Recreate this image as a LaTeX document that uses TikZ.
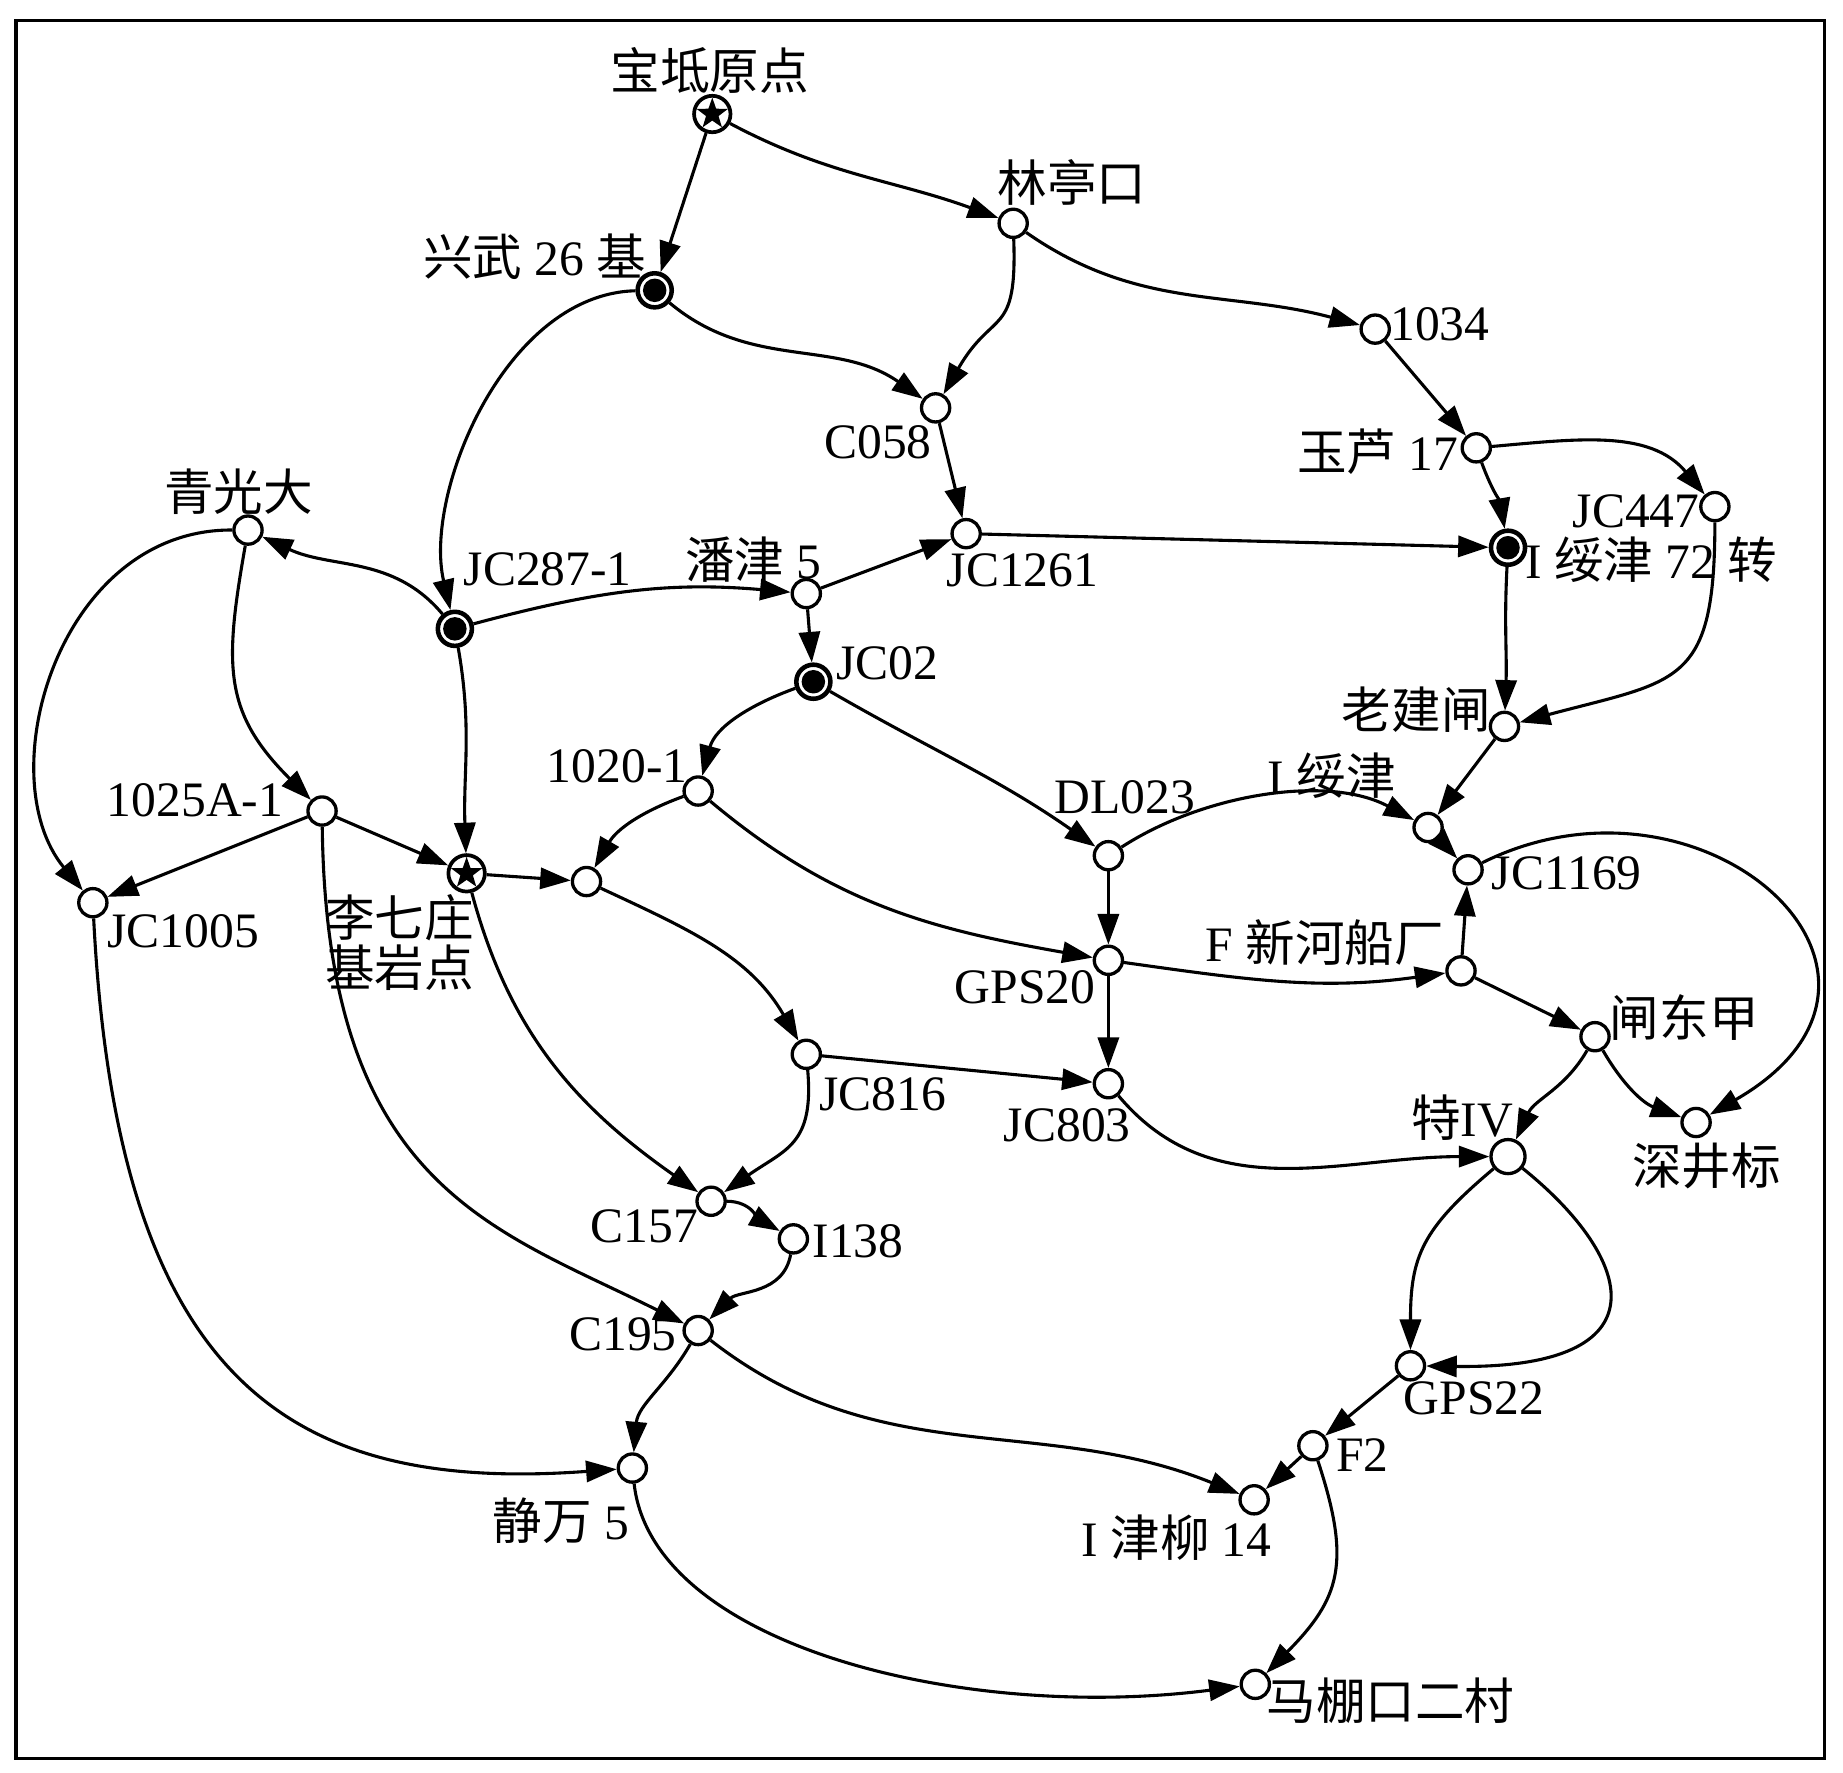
\documentclass[tikz,border=0pt]{standalone}
\usepackage{fontspec}
\setmainfont{Liberation Serif}
\newfontfamily\cjk{Noto Sans CJK SC}
\usetikzlibrary{arrows.meta}

\begin{document}
\begin{tikzpicture}[x=0.1mm,y=-0.1mm,>={Triangle[length=2.6mm,width=1.8mm]},
  stn/.style={circle,draw,line width=0.8pt,fill=white,inner sep=0pt,minimum size=2.4mm},
  bench/.style={stn,line width=1.1pt,minimum size=2.9mm,path picture={\fill[black] (path picture bounding box.center) circle (1mm);}},
  origin/.style={stn,line width=0.9pt,minimum size=3.1mm,path picture={\fill[black,shift={(path picture bounding box.center)}] (90:1.4mm) -- (126:.56mm) -- (162:1.4mm) -- (198:.56mm) -- (234:1.4mm) -- (270:.56mm) -- (306:1.4mm) -- (342:.56mm) -- (18:1.4mm) -- (54:.56mm) -- cycle;}},
  lbl/.style={inner sep=0pt,font=\fontsize{12}{14}\selectfont},
  link/.style={->,line width=0.75pt}]
\useasboundingbox (0,0) rectangle (1568,1508);
\draw[line width=0.75pt] (13.6,17.6) rectangle (1552.4,1496.3);

\node[origin] (baodi) at (606,97) {};
\node[stn] (linting) at (862,190) {};
\node[bench] (xingwu) at (557,247) {};
\node[stn] (p1034) at (1170,280) {};
\node[stn] (c058) at (796,347) {};
\node[stn] (yulu) at (1256,381) {};
\node[stn] (jc447) at (1459,431) {};
\node[stn] (jc1261) at (822,454) {};
\node[bench] (suijin72) at (1283,466) {};
\node[stn] (qingguang) at (211,451) {};
\node[bench] (jc287) at (387,535) {};
\node[stn] (panjin) at (686,505) {};
\node[bench] (jc02) at (692,580) {};
\node[stn] (laojian) at (1280,618) {};
\node[stn] (p1020) at (594,673) {};
\node[stn] (p1025) at (274,690) {};
\node[stn] (suijin) at (1215,704) {};
\node[stn] (dl023) at (943,728) {};
\node[origin] (liqi) at (397,743) {};
\node[stn] (mid) at (499,750) {};
\node[stn] (jc1169) at (1249,740) {};
\node[stn] (jc1005) at (79,768) {};
\node[stn] (gps20) at (943,817) {};
\node[stn] (xinhe) at (1243,826) {};
\node[stn] (zhadong) at (1357,882) {};
\node[stn] (jc816) at (686,897) {};
\node[stn] (jc803) at (943,922) {};
\node[stn,minimum size=2.9mm] (te4) at (1283,984) {};
\node[stn] (shenjing) at (1443,955) {};
\node[stn] (c157) at (605,1022) {};
\node[stn] (i138) at (675,1054) {};
\node[stn] (c195) at (594,1132) {};
\node[stn] (gps22) at (1200,1162) {};
\node[stn] (f2) at (1117,1230) {};
\node[stn] (jingwan) at (538,1249) {};
\node[stn] (jinliu) at (1067,1276) {};
\node[stn] (mapeng) at (1068,1433) {};

\node[lbl] (baodi-t) at (604,60) {{\cjk 宝坻原点}};
\node[lbl] (linting-t) at (912,155) {{\cjk 林亭口}};
\node[lbl] (xingwu-t) at (455,218) {{\cjk 兴武} 26 {\cjk 基}};
\node[lbl] (p1034-t) at (1225,276) {1034};
\node[lbl] (c058-t) at (747,376) {C058};
\node[lbl] (yulu-t) at (1172,384) {{\cjk 玉芦} 17};
\node[lbl] (jc447-t) at (1392,435) {JC447};
\node[lbl] (jc1261-t) at (870,485) {JC1261};
\node[lbl] (suijin72-t) at (1405,476) {I {\cjk 绥津} 72 {\cjk 转}};
\node[lbl] (qingguang-t) at (203,418) {{\cjk 青光大}};
\node[lbl] (jc287-t) at (466,484) {JC287-1};
\node[lbl] (panjin-t) at (641,476) {{\cjk 潘津} 5};
\node[lbl] (jc02-t) at (755,564) {JC02};
\node[lbl] (laojian-t) at (1205,604) {{\cjk 老建闸}};
\node[lbl] (p1020-t) at (525,652) {1020-1};
\node[lbl] (p1025-t) at (166,681) {1025A-1};
\node[lbl] (suijin-t) at (1133,660) {I {\cjk 绥津}};
\node[lbl] (dl023-t) at (957,678) {DL023};
\node[lbl] (jc1169-t) at (1333,743) {JC1169};
\node[lbl,align=center] (liqi-t) at (340,802) {{\cjk 李七庄}\\[-2pt]{\cjk 基岩点}};
\node[lbl] (jc1005-t) at (156,792) {JC1005};
\node[lbl] (xinhe-t) at (1127,802) {F {\cjk 新河船厂}};
\node[lbl] (gps20-t) at (872,840) {GPS20};
\node[lbl] (zhadong-t) at (1433,866) {{\cjk 闸东甲}};
\node[lbl] (jc816-t) at (751,931) {JC816};
\node[lbl] (jc803-t) at (908,957) {JC803};
\node[lbl] (te4-t) at (1244,951) {{\cjk 特}IV};
\node[lbl] (shenjing-t) at (1452,992) {{\cjk 深井标}};
\node[lbl] (c157-t) at (548,1043) {C157};
\node[lbl] (i138-t) at (730,1056) {I138};
\node[lbl] (c195-t) at (530,1135) {C195};
\node[lbl] (gps22-t) at (1254,1190) {GPS22};
\node[lbl] (f2-t) at (1159,1238) {F2};
\node[lbl] (jingwan-t) at (477,1294) {{\cjk 静万} 5};
\node[lbl] (jinliu-t) at (1001,1308) {I {\cjk 津柳} 14};
\node[lbl] (mapeng-t) at (1183,1447) {{\cjk 马棚口二村}};

\draw[link] (baodi) -- (xingwu);
\draw[link] (baodi) to[out=-28,in=160] (linting);
\draw[link] (linting) to[out=-88,in=60,looseness=1.5] (c058);
\draw[link] (linting) to[out=-35,in=165] (p1034);
\draw[link] (xingwu) to[out=-40,in=145] (c058);
\draw[link] (xingwu) .. controls (430,250) and (360,420) .. (jc287);
\draw[link] (p1034) -- (yulu);
\draw[link] (c058) -- (jc1261);
\draw[link] (yulu) to[out=5,in=130] (jc447);
\draw[link] (yulu) to[out=-70,in=100] (suijin72);
\draw[link] (jc1261) -- (suijin72);
\draw[link] (panjin) -- (jc1261);
\draw[link] (jc287) to[out=15,in=175] (panjin);
\draw[link] (jc287) to[out=130,in=-25] (qingguang);
\draw[link] (jc287) to[out=-80,in=92] (liqi);
\draw[link] (panjin) -- (jc02);
\draw[link] (suijin72) to[out=-93,in=88] (laojian);
\draw[link] (jc447) to[out=-90,in=15,looseness=1.5] (laojian);
\draw[link] (jc02) to[out=200,in=75] (p1020);
\draw[link] (jc02) to[out=-30,in=145] (dl023);
\draw[link] (laojian) -- (suijin);
\draw[link] (qingguang) .. controls (50,450) and (-10,660) .. (jc1005);
\draw[link] (qingguang) to[out=-100,in=135,looseness=1.2] (p1025);
\draw[link] (p1025) -- (jc1005);
\draw[link] (p1025) -- (liqi);
\draw[link] (p1025) .. controls (278,1010) and (420,1045) .. (c195);
\draw[link] (liqi) -- (mid);
\draw[link] (liqi) to[out=-75,in=145] (c157);
\draw[link] (p1020) to[out=200,in=60] (mid);
\draw[link] (p1020) to[out=-40,in=170] (gps20);
\draw[link] (mid) to[out=-25,in=120] (jc816);
\draw[link] (dl023) to[out=33,in=152,looseness=0.85] (suijin);
\draw[link] (dl023) -- (gps20);
\draw[link] (suijin) -- (jc1169);
\draw[link] (jc1169) .. controls (1450,640) and (1660,830) .. (shenjing);
\draw[link] (gps20) to[out=-8,in=188] (xinhe);
\draw[link] (gps20) -- (jc803);
\draw[link] (xinhe) -- (jc1169);
\draw[link] (xinhe) -- (zhadong);
\draw[link] (zhadong) to[out=-120,in=65] (te4);
\draw[link] (zhadong) to[out=-60,in=160] (shenjing);
\draw[link] (jc816) -- (jc803);
\draw[link] (jc816) to[out=-85,in=35,looseness=1.3] (c157);
\draw[link] (jc803) to[out=-50,in=180] (te4);
\draw[link] (te4) to[out=-140,in=90,looseness=1.2] (gps22);
\draw[link] (te4) .. controls (1390,1070) and (1420,1165) .. (gps22);
\draw[link] (c157) to[out=0,in=150] (i138);
\draw[link] (i138) to[out=-100,in=45] (c195);
\draw[link] (c195) to[out=-120,in=85] (jingwan);
\draw[link] (c195) to[out=-38,in=158] (jinliu);
\draw[link] (jc1005) .. controls (100,1180) and (250,1270) .. (jingwan);
\draw[link] (gps22) -- (f2);
\draw[link] (f2) -- (jinliu);
\draw[link] (f2) .. controls (1150,1330) and (1140,1360) .. (mapeng);
\draw[link] (jingwan) .. controls (555,1400) and (820,1465) .. (mapeng);
\end{tikzpicture}
\end{document}
